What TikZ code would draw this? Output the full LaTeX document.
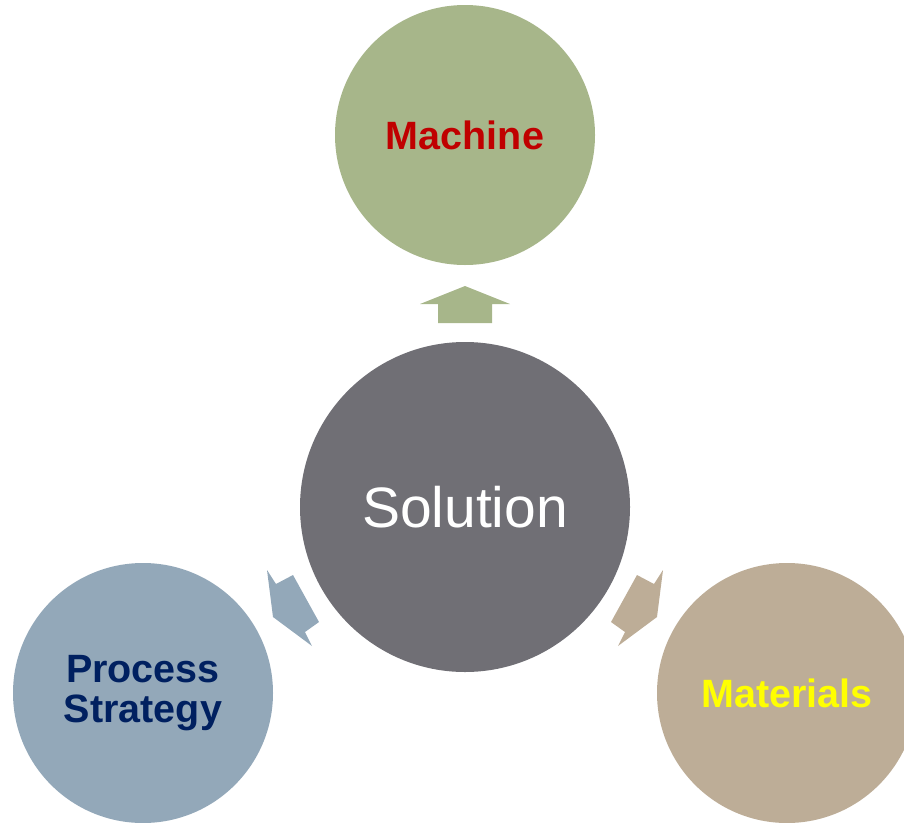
\documentclass[tikz,border=0pt]{standalone}
\usepackage{fontspec}
\setmainfont{Liberation Sans}
\definecolor{hubgray}{RGB}{112,111,117}
\definecolor{machgreen}{RGB}{167,182,138}
\definecolor{procblue}{RGB}{147,168,185}
\definecolor{mattan}{RGB}{189,173,151}
\definecolor{machred}{RGB}{192,0,0}
\definecolor{procnavy}{RGB}{0,32,96}
\definecolor{matyellow}{RGB}{255,255,0}

\begin{document}
\begin{tikzpicture}[x=1pt,y=-1pt]
	\tikzstyle{bubble}=[circle,inner sep=0pt,align=center,minimum size=260pt]
	\tikzstyle{label}=[font=\bfseries\fontsize{39.5}{40}\selectfont]
	\useasboundingbox (0,0) rectangle (904,822);
	\clip (0,0) rectangle (904,822);
	\node[bubble,fill=hubgray,minimum size=330pt,text=white,font=\fontsize{57}{60}\selectfont](sol) at (465,507) {Solution};
	\node[bubble,label,fill=machgreen,text=machred](mach) at (465,135) {Machine};
	\node[bubble,label,fill=procblue,text=procnavy](proc) at (143,693) {Process\\Strategy};
	\node[bubble,label,fill=mattan,text=matyellow](mat) at (787,693) {Materials};
	% arrows
	\fill[machgreen] (438,323) -- (438,304) -- (420,304) -- (465,286) -- (510,304) -- (492,304) -- (492,323) -- cycle;
	\fill[procblue] (267,570) -- (276,584) -- (293,575) -- (319,622) -- (305,632) -- (312,646) -- (273,617) -- cycle;
	\fill[mattan] (663,570) -- (654,584) -- (637,575) -- (611,622) -- (625,632) -- (618,646) -- (657,617) -- cycle;
\end{tikzpicture}
\end{document}
